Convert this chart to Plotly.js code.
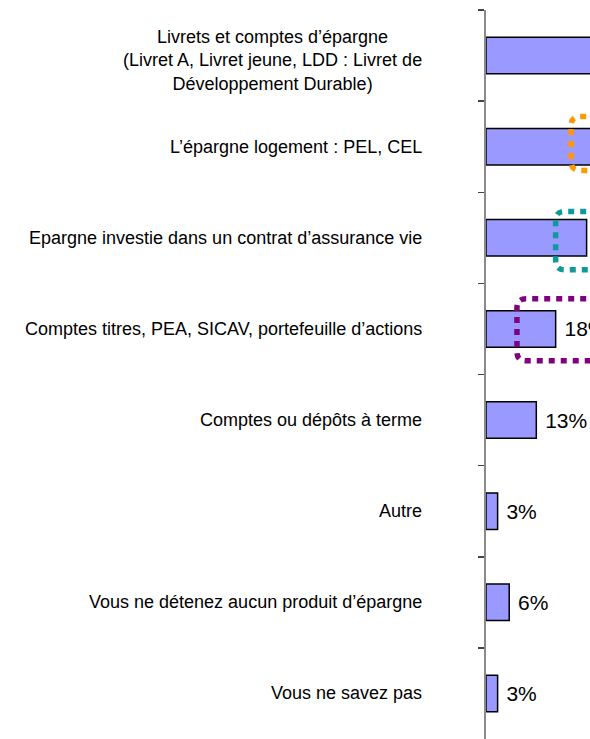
<!DOCTYPE html>
<html>
<head>
<meta charset="utf-8">
<script src="https://cdn.plot.ly/plotly-3.0.1.min.js"></script>
<style>
  html, body { margin: 0; padding: 0; background: #fff; overflow: hidden; width: 590px; height: 739px; }
  #chart { width: 873px; height: 739px; }
</style>
</head>
<body>
<div id="chart"></div>
<script>
// Categories (top to bottom)
const categories = [
  "Livrets et comptes d’épargne<br>(Livret A, Livret jeune, LDD : Livret de<br>Développement Durable)",
  "L’épargne logement : PEL, CEL",
  "Epargne investie dans un contrat d’assurance vie",
  "Comptes titres, PEA, SICAV, portefeuille d’actions",
  "Comptes ou dépôts à terme",
  "Autre",
  "Vous ne détenez aucun produit d’épargne",
  "Vous ne savez pas"
];
// Percent values (top two bars are cut off in the reference; estimated)
const values = [70, 35, 26, 18, 13, 3, 6, 3];

// Highlight frames: [category index, left x (%), top offset, bottom offset, colour]
const highlights = [
  [1, 22, -0.33, 0.26, "#FF9900"],
  [2, 18, -0.29, 0.35, "#0F9A99"],
  [3, 8, -0.33, 0.35, "#800080"]
];

const ids = categories.map((c, i) => i);

const trace = {
  type: "bar",
  orientation: "h",
  x: values,
  y: ids,
  marker: { color: "#9999FF", line: { color: "#000000", width: 1.5 } },
  text: values.map(v => "\u00a0" + v + "%"),
  textposition: "outside",
  textfont: { family: "Liberation Sans, Arial, sans-serif", size: 21, color: "#000" },
  constraintext: "none",
  cliponaxis: false,
  hoverinfo: "none",
  width: 0.4
};

const rx = 2.3, ry = 0.1, xr = 60;
const shapes = highlights.map(h => {
  const [i, x0, dt, db, col] = h;
  const yt = i + dt, yb = i + db;
  const path = `M ${xr},${yt} L ${x0 + rx},${yt} Q ${x0},${yt} ${x0},${yt + ry} ` +
               `L ${x0},${yb - ry} Q ${x0},${yb} ${x0 + rx},${yb} L ${xr},${yb}`;
  return {
    type: "path", xref: "x", yref: "y", path: path,
    line: { color: col, width: 5.5, dash: "6px,6px" },
    layer: "above"
  };
});

const annotations = categories.map((c, i) => ({
  xref: "paper", yref: "y", x: 0, y: i,
  xanchor: "right", yanchor: "middle", xshift: -62,
  yshift: c.indexOf("<br>") >= 0 ? -5 : 0,
  text: c, showarrow: false, align: "center",
  font: { family: "Liberation Sans, Arial, sans-serif", size: 18, color: "#000" }
}));

const layout = {
  width: 873, height: 739,
  margin: { l: 486, r: 0, t: 10, b: 0 },
  paper_bgcolor: "#fff", plot_bgcolor: "#fff",
  showlegend: false,
  xaxis: { range: [0, 100], visible: false, fixedrange: true },
  yaxis: {
    type: "linear",
    range: [7.5, -0.5],
    showticklabels: false,
    showgrid: false, zeroline: false,
    showline: true, linecolor: "#8a8a8a", linewidth: 2,
    ticks: "outside", ticklen: 6, tickwidth: 1.5, tickcolor: "#444",
    tickmode: "array",
    tickvals: ids.slice(0, categories.length - 1).map(i => i + 0.5).concat([-0.5]),
    fixedrange: true
  },
  shapes: shapes,
  annotations: annotations,
  font: { family: "Liberation Sans, Arial, sans-serif" }
};

Plotly.newPlot("chart", [trace], layout, { displayModeBar: false, staticPlot: true });
</script>
</body>
</html>
